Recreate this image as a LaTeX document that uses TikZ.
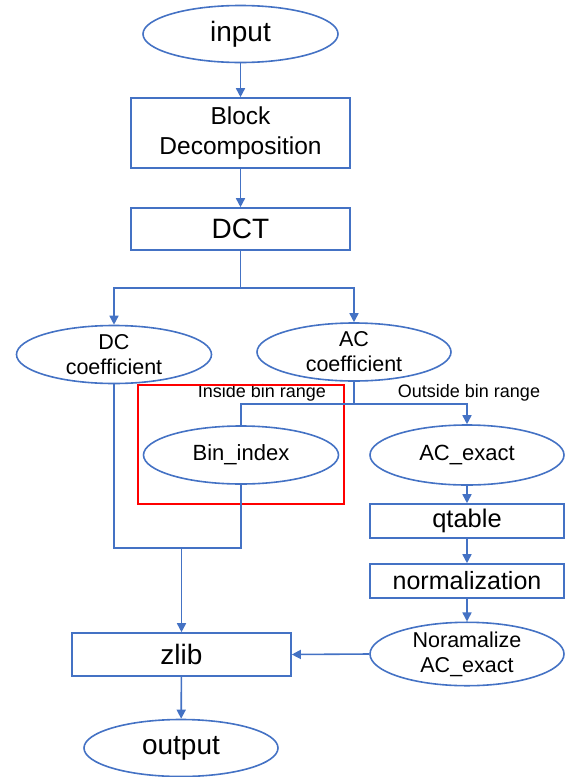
\documentclass[tikz,border=0pt]{standalone}
\usepackage{fontspec}
\setmainfont{Liberation Sans}
\usetikzlibrary{arrows.meta,shapes.geometric}
\definecolor{ob}{RGB}{68,114,196}
\begin{document}
\begin{tikzpicture}[x=1pt,y=-1pt,
  ln/.style={draw=ob,line width=1.6pt},
  arr/.style={ln,-{Triangle[length=9pt,width=9pt]}},
  ell/.style={ellipse,draw=ob,line width=1.6pt,inner sep=0pt,align=center},
  box/.style={rectangle,draw=ob,line width=1.6pt,inner sep=0pt,align=center},
  lbl/.style={font=\fontsize{18}{20}\selectfont,inner sep=0pt}]
\useasboundingbox (0,0) rectangle (566,777);
\node[ell,minimum width=195,minimum height=57,font=\fontsize{28}{30}\selectfont] (input) at (240.5,34) {input};
\node[box,minimum width=219,minimum height=70,font=\fontsize{24.5}{30}\selectfont] (block) at (240.5,133) {Block\\Decomposition};
\node[box,minimum width=219,minimum height=42,font=\fontsize{28}{30}\selectfont] (dct) at (240.5,229) {DCT};
\node[ell,minimum width=195,minimum height=58,font=\fontsize{21.5}{25}\selectfont] (dc) at (114,354.5) {DC\\coefficient};
\node[ell,minimum width=194,minimum height=58,font=\fontsize{21.5}{25}\selectfont] (ac) at (354,352) {AC\\coefficient};
\node[ell,minimum width=195,minimum height=58,font=\fontsize{22}{25}\selectfont] (bin) at (241,455) {Bin\_index};
\node[ell,minimum width=194,minimum height=60,font=\fontsize{22}{25}\selectfont] (acx) at (467,455) {AC\_exact};
\node[box,minimum width=194,minimum height=34,font=\fontsize{25.5}{30}\selectfont] (qt) at (467,521) {qtable};
\node[box,minimum width=194,minimum height=34,font=\fontsize{25}{30}\selectfont] (norm) at (467,581) {normalization};
\node[ell,minimum width=194,minimum height=58,font=\fontsize{21.5}{25}\selectfont] (nac) at (467,654) {Noramalize\\AC\_exact};
\node[box,minimum width=219,minimum height=43,font=\fontsize{28}{30}\selectfont] (zlib) at (181.5,654.5) {zlib};
\node[ell,minimum width=194,minimum height=57,font=\fontsize{28}{30}\selectfont] (out) at (181,748) {output};
\node[lbl] (lin) at (262,393) {Inside bin range};
\node[lbl] (lout) at (469,393) {Outside bin range};
\node[draw=red,line width=1.4pt,minimum width=206,minimum height=119,inner sep=0pt] (redbox) at (241,444.5) {};
\draw[arr] (input) -- (block);
\draw[arr] (block) -- (dct);
\draw[ln] (dct.south) -- (240.5,288) coordinate (split);
\draw[arr] (split) -| (dc.north);
\draw[arr] (split) -| (ac.north);
\draw[ln] (ac.south) -- (354,404) coordinate (acs);
\draw[ln] (acs) -| (bin.north);
\draw[arr] (acs) -| (acx.north);
\draw[arr] (acx) -- (qt);
\draw[arr] (qt) -- (norm);
\draw[arr] (norm) -- (nac);
\draw[ln] (bin.south) -- (241,548) coordinate (bl) -| (dc.south);
\coordinate (mg) at (zlib.north |- bl);
\draw[arr] (mg) -- (zlib.north);
\draw[arr] (nac.west) -- (zlib.east);
\draw[arr] (zlib) -- (out);
\end{tikzpicture}
\end{document}
